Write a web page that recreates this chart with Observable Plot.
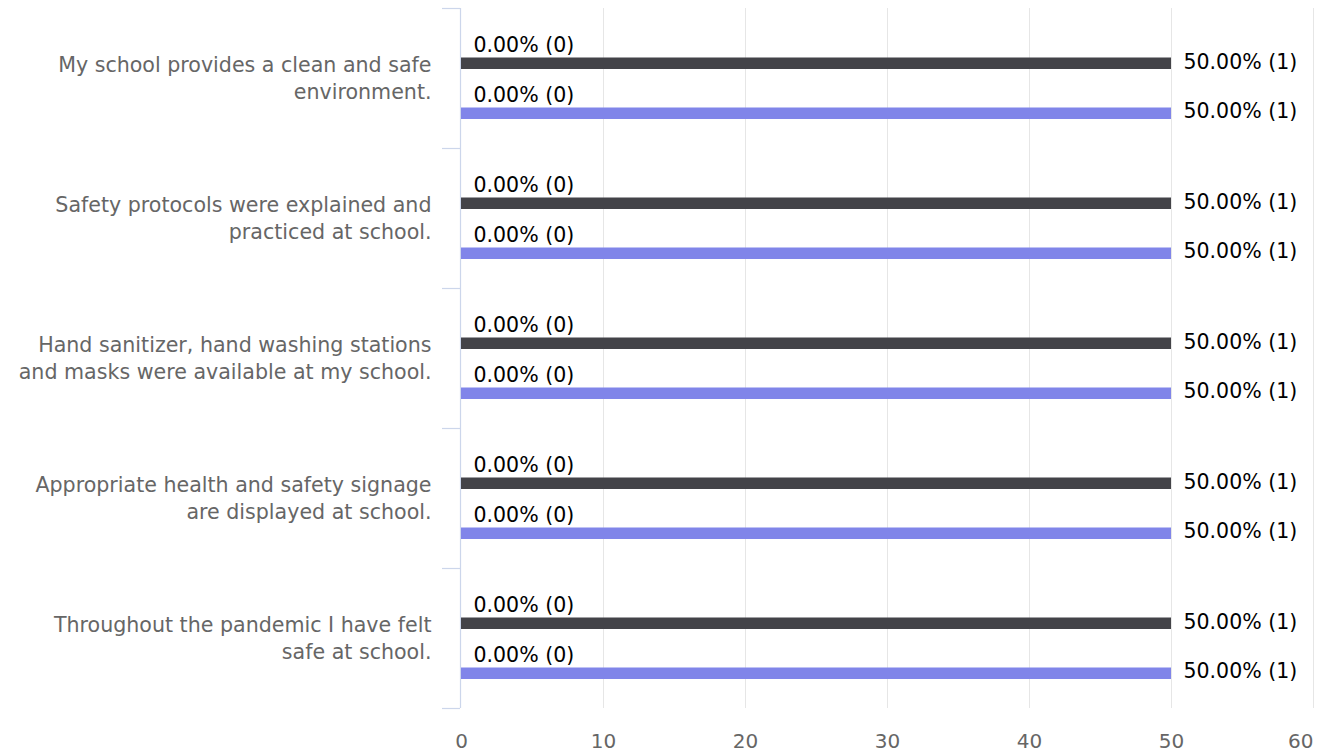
<!DOCTYPE html>
<html>
<head>
<meta charset="utf-8">
<script src="https://cdn.jsdelivr.net/npm/d3@7"></script>
<script src="https://cdn.jsdelivr.net/npm/@observablehq/plot@0.6"></script>
<style>
  html, body { margin: 0; padding: 0; background: #fff; }
</style>
</head>
<body>
<div id="chart"></div>
<script>
const categories = [
  "My school provides a clean and safe environment.",
  "Safety protocols were explained and practiced at school.",
  "Hand sanitizer, hand washing stations and masks were available at my school.",
  "Appropriate health and safety signage are displayed at school.",
  "Throughout the pandemic I have felt safe at school."
];
const categoryLabels = [
  "My school provides a clean and safe\nenvironment.",
  "Safety protocols were explained and\npracticed at school.",
  "Hand sanitizer, hand washing stations\nand masks were available at my school.",
  "Appropriate health and safety signage\nare displayed at school.",
  "Throughout the pandemic I have felt\nsafe at school."
];
const seriesNames = ["Series 1", "Series 2"];
const seriesColors = ["#434348", "#8085e9"];
// percentage (bar length) and count for each series, per category
const series1Pct = [50, 50, 50, 50, 50];
const series1Count = [1, 1, 1, 1, 1];
const series2Pct = [50, 50, 50, 50, 50];
const series2Count = [1, 1, 1, 1, 1];
// the zero-valued segment shown at the start of each bar
const series1ZeroPct = [0, 0, 0, 0, 0];
const series1ZeroCount = [0, 0, 0, 0, 0];
const series2ZeroPct = [0, 0, 0, 0, 0];
const series2ZeroCount = [0, 0, 0, 0, 0];
const xTicks = [0, 10, 20, 30, 40, 50, 60];

const rows = [];
categories.forEach((c, i) => {
  rows.push({category: c, series: seriesNames[0], pct: series1Pct[i], count: series1Count[i], zpct: series1ZeroPct[i], zcount: series1ZeroCount[i]});
  rows.push({category: c, series: seriesNames[1], pct: series2Pct[i], count: series2Count[i], zpct: series2ZeroPct[i], zcount: series2ZeroCount[i]});
});
const s1 = rows.filter(d => d.series === seriesNames[0]);
const s2 = rows.filter(d => d.series === seriesNames[1]);
const fmt = (p, n) => `${p.toFixed(2)}% (${n})`;
const labelMap = new Map(categories.map((c, i) => [c, categoryLabels[i]]));

const font = "DejaVu Sans, Verdana, sans-serif";

const chart = Plot.plot({
  width: 1325,
  height: 754,
  marginLeft: 461,
  marginRight: 12,
  marginTop: 8,
  marginBottom: 46,
  style: {fontFamily: font, fontSize: "20px", background: "#fff", overflow: "visible"},
  x: {domain: [0, 60], ticks: xTicks, label: null},
  y: {type: "band", domain: categories, padding: 0, label: null},
  color: {domain: seriesNames, range: seriesColors},
  marks: [
    Plot.gridX(xTicks.slice(1), {stroke: "#e6e6e6", strokeOpacity: 1, strokeWidth: 1}),
    Plot.ruleX([0], {stroke: "#ccd6eb", strokeOpacity: 1, strokeWidth: 1.2, dx: -1}),
    // band boundary ticks on the category axis
    Plot.axisY(categories, {tickSize: 18, tickFormat: () => "", stroke: "#ccd6eb", strokeOpacity: 1, strokeWidth: 1.2, dy: -70, dx: -1, label: null}),
    Plot.axisY(categories.slice(-1), {tickSize: 18, tickFormat: () => "", stroke: "#ccd6eb", strokeOpacity: 1, strokeWidth: 1.2, dy: 70, dx: -1, label: null}),
    // category labels
    Plot.axisY({tickSize: 0, tickPadding: 30, tickFormat: d => labelMap.get(d), fill: "#666666", lineHeight: 1.33, fontSize: 20.6, dy: -1.5, label: null}),
    // bars
    Plot.barX(s1, {y: "category", x: "pct", fill: "series", insetTop: 49.5, insetBottom: 79}),
    Plot.barX(s2, {y: "category", x: "pct", fill: "series", insetTop: 99.5, insetBottom: 29}),
    // zero labels
    Plot.text(s1, {y: "category", x: "zpct", text: d => fmt(d.zpct, d.zcount), textAnchor: "start", dx: 12, dy: -33, fill: "#000", fontSize: 20.5}),
    Plot.text(s2, {y: "category", x: "zpct", text: d => fmt(d.zpct, d.zcount), textAnchor: "start", dx: 12, dy: 17, fill: "#000", fontSize: 20.5}),
    // end labels
    Plot.text(s1, {y: "category", x: "pct", text: d => fmt(d.pct, d.count), textAnchor: "start", dx: 12, dy: -16, fill: "#000", fontSize: 20.5}),
    Plot.text(s2, {y: "category", x: "pct", text: d => fmt(d.pct, d.count), textAnchor: "start", dx: 12, dy: 33, fill: "#000", fontSize: 20.5}),
    // x axis labels
    Plot.axisX(xTicks.slice(0, -1), {tickSize: 0, tickPadding: 25, fill: "#666666", fontSize: 20, label: null}),
    Plot.axisX(xTicks.slice(-1), {tickSize: 0, tickPadding: 25, fill: "#666666", fontSize: 20, textAnchor: "end", label: null})
  ]
});
document.getElementById("chart").appendChild(chart);
</script>
</body>
</html>
